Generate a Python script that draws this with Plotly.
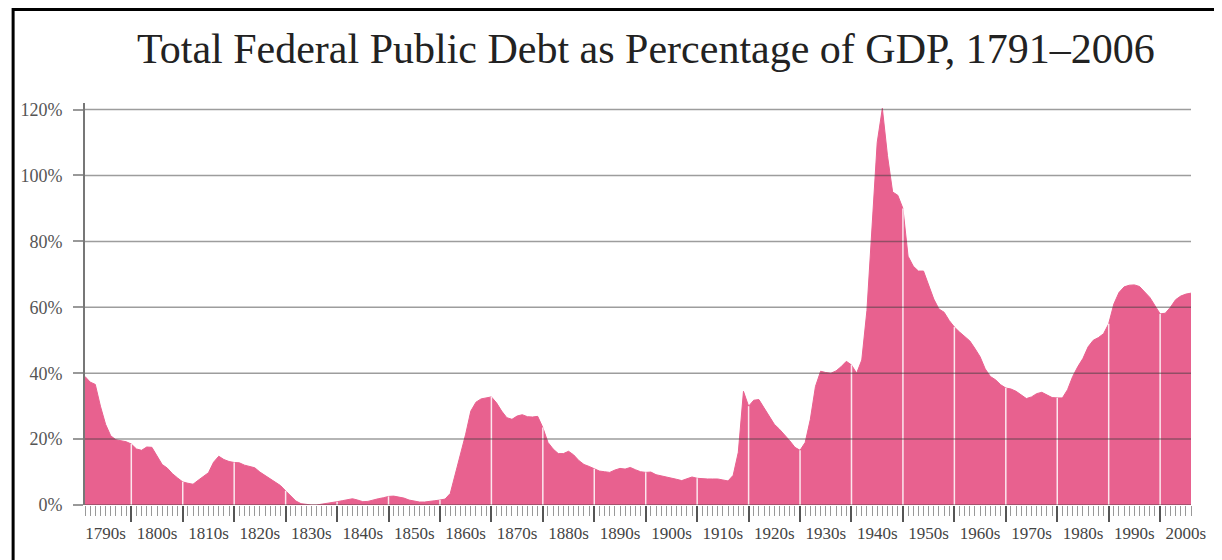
import plotly.graph_objects as go

years = list(range(1791, 2007))
debt_pct = [
    39.0, 37.3, 36.6, 30.0, 24.5, 21.0, 19.8, 19.4, 19.2,            # 1791-1799
    18.5, 17.0, 16.6, 17.6, 17.5, 14.8, 12.3, 11.2, 9.5, 8.2,        # 1800s
    7.0, 6.6, 6.3, 7.5, 8.6, 9.8, 13.0, 14.8, 13.8, 13.2,            # 1810s
    12.9, 12.8, 12.1, 11.7, 11.3, 10.0, 9.0, 7.9, 6.9, 5.9,          # 1820s
    4.3, 2.6, 1.2, 0.4, 0.1, 0.0, 0.0, 0.2, 0.6, 0.8,                # 1830s
    1.0, 1.3, 1.6, 1.9, 1.5, 1.0, 1.1, 1.6, 1.9, 2.2,                # 1840s
    2.6, 2.7, 2.5, 2.1, 1.5, 1.1, 0.9, 0.9, 1.0, 1.3,                # 1850s
    1.5, 1.8, 3.5, 9.5, 15.0, 21.5, 28.5, 31.2, 32.2, 32.6,          # 1860s
    32.8, 31.0, 28.5, 26.5, 26.0, 27.0, 27.4, 26.8, 26.7, 26.9,      # 1870s
    23.5, 19.0, 17.0, 15.6, 15.6, 16.3, 15.2, 13.5, 12.3, 11.7,      # 1880s
    11.0, 10.3, 10.1, 9.9, 10.6, 11.1, 10.9, 11.4, 10.7, 10.1,       # 1890s
    9.9, 10.0, 9.2, 8.9, 8.6, 8.2, 7.8, 7.4, 8.0, 8.5,               # 1900s
    8.1, 7.9, 7.9, 7.9, 7.9, 7.6, 7.3, 9.0, 16.0, 34.5,              # 1910s
    30.0, 31.8, 32.0, 29.5, 27.0, 24.5, 23.0, 21.4, 19.5, 17.5,      # 1920s
    16.6, 19.0, 26.0, 36.0, 40.6, 40.2, 40.0, 40.7, 42.0, 43.6,      # 1930s
    42.5, 40.0, 44.0, 59.0, 84.0, 110.0, 120.4, 106.0, 95.0, 94.0,   # 1940s
    90.0, 75.5, 72.5, 71.0, 71.0, 67.0, 62.5, 59.5, 58.5, 56.0,      # 1950s
    54.0, 52.5, 51.2, 49.8, 47.5, 45.0, 41.3, 39.0, 38.0, 36.5,      # 1960s
    35.5, 35.2, 34.5, 33.4, 32.3, 32.8, 33.8, 34.2, 33.4, 32.6,      # 1970s
    32.5, 32.5, 35.0, 39.0, 42.0, 44.5, 48.0, 50.0, 50.8, 52.0,      # 1980s
    55.0, 61.0, 64.5, 66.2, 66.7, 66.8, 66.3, 64.5, 63.0, 60.5,      # 1990s
    58.0, 58.2, 60.0, 62.3, 63.4, 64.0, 64.3,                        # 2000s
]

decade_starts = list(range(1800, 2001, 10))
decade_mids = list(range(1795, 2006, 10))
decade_labels = [f"{d}s" for d in range(1790, 2001, 10)]
y_ticks = [0, 20, 40, 60, 80, 100, 120]
y_labels = [f"{v}%" for v in y_ticks]

title_text = "Total Federal Public Debt as Percentage of GDP, 1791\u20132006"

PINK = "#E8618F"
SERIF = "Liberation Serif, Times New Roman, serif"

fig = go.Figure()
fig.add_trace(go.Scatter(
    x=years, y=debt_pct, mode="lines", fill="tozeroy",
    line=dict(color=PINK, width=1), fillcolor=PINK,
    hoverinfo="x+y", showlegend=False,
))
# invisible trace to activate the label axis
fig.add_trace(go.Scatter(x=[years[0], years[-1]], y=[0, 0], xaxis="x2",
                         mode="lines", line=dict(width=0), showlegend=False,
                         hoverinfo="skip"))

shapes = []
val_by_year = dict(zip(years, debt_pct))
for d in decade_starts:
    shapes.append(dict(type="line", xref="x", yref="y", x0=d, x1=d, y0=0,
                       y1=val_by_year[d], line=dict(color="rgba(255,255,255,0.85)", width=1.5),
                       layer="above"))
for v in y_ticks:
    shapes.append(dict(type="line", xref="paper", yref="y", x0=0, x1=1, y0=v, y1=v,
                       line=dict(color="rgba(60,60,60,0.5)", width=1.5), layer="above"))
# outer frame
shapes.append(dict(type="rect", xref="paper", yref="paper",
                   x0=-0.0650, x1=1.0255, y0=1.2326, y1=-0.30,
                   line=dict(color="black", width=3), fillcolor="rgba(0,0,0,0)",
                   layer="above"))

fig.update_layout(
    width=1214, height=552,
    margin=dict(l=74, r=31, t=95, b=55),
    paper_bgcolor="white", plot_bgcolor="white",
    font=dict(family=SERIF, color="#444"),
    shapes=shapes,
    xaxis=dict(
        range=[1791, 2006], tickvals=decade_starts, showticklabels=False,
        ticks="outside", ticklen=16, tickwidth=1.5, tickcolor="#555",
        minor=dict(tick0=1791, dtick=1, ticks="outside", ticklen=10,
                   tickwidth=1, tickcolor="#999"),
        showgrid=False, zeroline=False, showline=False, fixedrange=True,
    ),
    xaxis2=dict(
        overlaying="x", anchor="y", side="bottom", range=[1791, 2006],
        tickvals=decade_mids, ticktext=decade_labels, ticks="",
        ticklabelstandoff=16,
        tickfont=dict(family=SERIF, size=17, color="#444"),
        showgrid=False, zeroline=False, showline=False,
    ),
    yaxis=dict(
        range=[0, 122], tickvals=y_ticks, ticktext=y_labels,
        ticks="outside", ticklen=10, tickwidth=1.5, tickcolor="#999",
        tickfont=dict(family=SERIF, size=18, color="#555"),
        ticklabelstandoff=7,
        showgrid=False, zeroline=False,
        showline=True, linecolor="#777", linewidth=2,
    ),
    annotations=[dict(
        text=title_text, xref="paper", yref="paper", x=0.5068, y=1.134,
        xanchor="center", yanchor="middle", showarrow=False,
        font=dict(family=SERIF, size=42, color="#222"),
    )],
)

fig.write_html("out.html")
